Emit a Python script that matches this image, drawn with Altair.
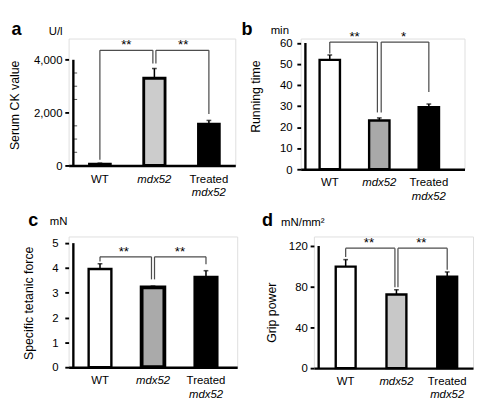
import altair as alt
import pandas as pd

FONT = "Liberation Sans"

# ---------------- data ----------------
groups = ["WT", "mdx52", "Treated mdx52"]
pos = [0, 1, 2]

# a: serum CK value (U/l)
ck_mean = [60, 3300, 1570]
ck_sem = [30, 370, 135]
# b: running time (min)
run_mean = [52.0, 23.2, 29.5]
run_sem = [2.3, 1.2, 1.5]
# c: specific tetanic force (mN)
force_mean = [3.96, 3.22, 3.64]
force_sem = [0.21, 0.05, 0.25]
# d: grip power (mN/mm2)
grip_mean = [99.7, 72.3, 89.8]
grip_sem = [6.9, 4.7, 4.7]

# significance brackets: level, drop ends (WT, mdx52, Treated), stars
br_a = [4358, [215, 3857, 1946]]
br_b = [60.45, [55.05, 27.0, 36.7]]
br_c = [4.45, [4.26, 3.54, 4.15]]
br_d = [117.8, [109.1, 79.5, 96.6]]
stars_a = ["**", "**"]
stars_b = ["**", "*"]
stars_c = ["**", "**"]
stars_d = ["**", "**"]

ticks_a = [0, 2000, 4000]
ticks_b = [0, 10, 20, 30, 40, 50, 60]
ticks_c = [0, 1, 2, 3, 4, 5]
ticks_d = [0, 40, 80, 120]
minor_a = [500, 1000, 1500, 2500, 3000, 3500]


def make_panel(c):
    xs = alt.Scale(domain=c["xdom"], nice=False, zero=False)
    ys = alt.Scale(domain=[0, c["ymax"]], nice=False, zero=False)
    xaxis = alt.Axis(labels=False, ticks=False, title=None, grid=False,
                     domainWidth=2.5, domainColor="#000000")
    yaxis = alt.Axis(values=c["ticks"], format=c["fmt"], title=c["title"], grid=False,
                     domain=False, tickSize=4, tickWidth=2, tickColor="#000000",
                     labelFont=FONT, labelFontSize=12, labelColor="#000000",
                     labelPadding=c["lpad"], titleFont=FONT, titleFontSize=13,
                     titleFontWeight="normal", titleColor="#000000",
                     titleX=c["tx"], titleY=c["ty"], titleAngle=270,
                     titleAlign="center", titleBaseline="middle")

    def X(f):
        return alt.X(f, scale=xs, axis=xaxis)

    def Y(f):
        return alt.Y(f, scale=ys, axis=yaxis)

    mean, sem = c["mean"], c["sem"]
    bdf = pd.DataFrame({
        "pos": pos, "mean": mean, "zero": [0, 0, 0],
        "top": [m + s for m, s in zip(mean, sem)],
        "fill": c["fills"], "sw": c["sws"],
    })
    layers = []
    layers.append(alt.Chart(bdf).mark_bar(orient="vertical", size=c["barw"], stroke="#000000").encode(
        x=X("pos:Q"), y=Y("mean:Q"), y2="zero:Q",
        fill=alt.Fill("fill:N", scale=None),
        strokeWidth=alt.StrokeWidth("sw:Q", scale=None)))
    layers.append(alt.Chart(bdf).mark_rule(color="#000000", strokeWidth=1.6).encode(
        x=X("pos:Q"), y=Y("mean:Q"), y2="top:Q"))
    layers.append(alt.Chart(bdf).mark_tick(orient="horizontal", size=5, thickness=1.6, color="#000000").encode(
        x=X("pos:Q"), y=Y("top:Q")))

    # y axis line (0 to top tick)
    adf = pd.DataFrame({"ax": [c["xdom"][0]], "y0": [0], "y1": [c["ticks"][-1]]})
    layers.append(alt.Chart(adf).mark_rule(color="#000000", strokeWidth=2.5).encode(
        x=X("ax:Q"), y=Y("y0:Q"), y2="y1:Q"))
    if c.get("minor"):
        mdf = pd.DataFrame({"ax": [c["xdom"][0]] * len(c["minor"]), "m": c["minor"]})
        layers.append(alt.Chart(mdf).mark_tick(orient="horizontal", size=4, thickness=1, color="#000000", xOffset=2).encode(
            x=X("ax:Q"), y=Y("m:Q")))

    # significance brackets
    lvl, drops = c["br"]
    bc = "#4d4d4d"
    bw = 1.3
    off = c.get("boff", 1.6)
    hl = pd.DataFrame({"x1": [0], "x2": [1], "y": [lvl]})
    hr = pd.DataFrame({"x1": [1], "x2": [2], "y": [lvl]})
    layers.append(alt.Chart(hl).mark_rule(color=bc, strokeWidth=bw, x2Offset=-off).encode(
        x=X("x1:Q"), x2="x2:Q", y=Y("y:Q")))
    layers.append(alt.Chart(hr).mark_rule(color=bc, strokeWidth=bw, xOffset=off).encode(
        x=X("x1:Q"), x2="x2:Q", y=Y("y:Q")))
    outer = pd.DataFrame({"x": [0, 2], "y": [lvl, lvl], "y2": [drops[0], drops[2]]})
    layers.append(alt.Chart(outer).mark_rule(color=bc, strokeWidth=bw).encode(
        x=X("x:Q"), y=Y("y:Q"), y2="y2:Q"))
    mid = pd.DataFrame({"x": [1], "y": [lvl], "y2": [drops[1]]})
    layers.append(alt.Chart(mid).mark_rule(color=bc, strokeWidth=bw, xOffset=-off).encode(
        x=X("x:Q"), y=Y("y:Q"), y2="y2:Q"))
    layers.append(alt.Chart(mid).mark_rule(color=bc, strokeWidth=bw, xOffset=off).encode(
        x=X("x:Q"), y=Y("y:Q"), y2="y2:Q"))
    sdf = pd.DataFrame({"x": c["star_x"], "y": [lvl, lvl], "t": c["stars"]})
    layers.append(alt.Chart(sdf).mark_text(font=FONT, fontSize=14, color="#000000", baseline="alphabetic", dy=-1).encode(
        x=X("x:Q"), y=Y("y:Q"), text="t:N"))

    # category labels
    l1 = pd.DataFrame({"pos": [0, 2], "zero": [0, 0], "t": ["WT", "Treated"]})
    l2 = pd.DataFrame({"pos": [1], "zero": [0], "t": ["mdx52"]})
    l3 = pd.DataFrame({"pos": [2], "zero": [0], "t": ["mdx52"]})
    layers.append(alt.Chart(l1).mark_text(font=FONT, fontSize=12, color="#000000", baseline="alphabetic", dy=c["ldy"]).encode(
        x=X("pos:Q"), y=Y("zero:Q"), text="t:N"))
    layers.append(alt.Chart(l2).mark_text(font=FONT, fontSize=12, fontStyle="italic", color="#000000", baseline="alphabetic", dy=c["ldy"]).encode(
        x=X("pos:Q"), y=Y("zero:Q"), text="t:N"))
    layers.append(alt.Chart(l3).mark_text(font=FONT, fontSize=12, fontStyle="italic", color="#000000", baseline="alphabetic", dy=c["ldy"] + 14).encode(
        x=X("pos:Q"), y=Y("zero:Q"), text="t:N"))

    # panel letter and unit
    ldf = pd.DataFrame({"t": [c["letter"]]})
    layers.append(alt.Chart(ldf).mark_text(font=FONT, fontSize=19, fontWeight="bold", color="#000000", align="center", baseline="alphabetic").encode(
        x=alt.value(c["lx"]), y=alt.value(c["ly"]), text="t:N"))
    udf = pd.DataFrame({"t": [c["unit"]]})
    layers.append(alt.Chart(udf).mark_text(font=FONT, fontSize=12, color="#000000", align="left", baseline="alphabetic").encode(
        x=alt.value(c["ux"]), y=alt.value(c["uy"]), text="t:N"))

    return alt.layer(*layers).properties(width=c["w"], height=c["h"])


pa = make_panel(dict(mean=ck_mean, sem=ck_sem, fills=["white", "#cccccc", "black"], sws=[2.5, 3, 2.5],
                     barw=22.5, xdom=[-0.487, 2.398], ymax=4803, ticks=ticks_a, fmt=",d", minor=minor_a,
                     title="Serum CK value", tx=-57, ty=70, lpad=3, br=br_a, stars=stars_a, star_x=[0.485, 1.53],
                     ldy=18, letter="a", lx=-55, ly=-3.3, unit="U/l", ux=-21, uy=-4, w=176, h=134))
pb = make_panel(dict(mean=run_mean, sem=run_sem, fills=["white", "#a9a9a9", "black"], sws=[2.5, 2.5, 2.5],
                     barw=21.5, xdom=[-0.492, 2.625], ymax=62.1, ticks=ticks_b, fmt="d",
                     title="Running time", tx=-47.4, ty=60.8, lpad=5, br=br_b, stars=stars_b, star_x=[0.5, 1.49],
                     ldy=18, letter="b", lx=-56.7, ly=-3.3, unit="min", ux=-31.7, uy=-5, w=173, h=138, boff=2))
pc = make_panel(dict(mean=force_mean, sem=force_sem, fills=["white", "#aaaaaa", "black"], sws=[2.5, 4, 2.5],
                     barw=24, xdom=[-0.503, 2.5], ymax=5.267, ticks=ticks_c, fmt="d",
                     title="Specific tetanic force", tx=-42, ty=70, lpad=7, br=br_c, stars=stars_c, star_x=[0.45, 1.51],
                     ldy=18, letter="c", lx=-37.3, ly=-11.3, unit="mN", ux=-20, uy=-12, w=178, h=138))
pd_ = make_panel(dict(mean=grip_mean, sem=grip_sem, fills=["white", "#c8c8c8", "black"], sws=[2.5, 2.5, 2.5],
                      barw=21, xdom=[-0.532, 2.416], ymax=129.3, ticks=ticks_d, fmt="d",
                      title="Grip power", tx=-44.7, ty=80, lpad=3, br=br_d, stars=stars_d, star_x=[0.46, 1.49],
                      ldy=18, letter="d", lx=-49, ly=-11.3, unit="mN/mm²", ux=-34.7, uy=-10.7, w=168, h=139))

top = alt.hconcat(pa, pb, spacing=4)
bottom = alt.hconcat(pc, pd_, spacing=24)
chart = alt.vconcat(top, bottom, spacing=9).properties(
    padding={"left": 0, "top": 2, "right": 0, "bottom": 0}
).configure_view(stroke=None).configure(font=FONT, background="#ffffff")

chart.save("out.html", embed_options={"renderer": "svg", "actions": False})
